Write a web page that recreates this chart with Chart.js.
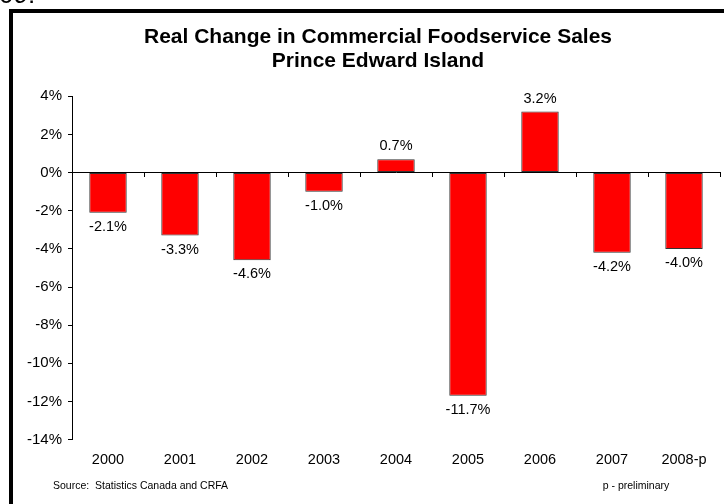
<!DOCTYPE html>
<html>
<head>
<meta charset="utf-8">
<script src="https://cdn.jsdelivr.net/npm/chart.js@4"></script>
<style>
  html, body { margin: 0; padding: 0; background: #fff; overflow: hidden; }
  #wrap { width: 724px; height: 504px; }
</style>
</head>
<body>
<div id="wrap"><canvas id="grafico" width="724" height="504"></canvas></div>
<script>
// dati: variazione reale delle vendite (%)
const anni = ['2000', '2001', '2002', '2003', '2004', '2005', '2006', '2007', '2008-p'];
const variazioni = [-2.1, -3.3, -4.6, -1.0, 0.7, -11.7, 3.2, -4.2, -4.0];
const titolo = ['Real Change in Commercial Foodservice Sales', 'Prince Edward Island'];
const fonte = 'Source:  Statistics Canada and CRFA';
const nota = 'p - preliminary';

const FONT = 'Arial, "Liberation Sans", sans-serif';

// cornice e note a piè di pagina
const cornice = {
  id: 'cornice',
  afterLayout(chart) {
    // titolo centrato sul riquadro, non sul canvas
    chart.titleBlock.left = 36;
  },
  beforeDraw(chart) {
    const ctx = chart.ctx;
    ctx.save();
    ctx.fillStyle = '#000';
    ctx.fillRect(9, 9, chart.width, 4);
    ctx.fillRect(9, 9, 4, chart.height);
    // frammento di testo tagliato in alto
    ctx.font = '26px ' + FONT;
    ctx.textBaseline = 'alphabetic';
    ctx.fillText('09:', -1, 3);
    ctx.restore();
  },
  afterDraw(chart) {
    const ctx = chart.ctx;
    ctx.save();
    ctx.fillStyle = '#000';
    ctx.font = '10.5px ' + FONT;
    ctx.textBaseline = 'middle';
    ctx.textAlign = 'left';
    ctx.fillText(fonte, 53, 486);
    ctx.textAlign = 'center';
    ctx.fillText(nota, 636, 486);
    ctx.restore();
  }
};

// etichette dei valori sopra/sotto le barre
const etichette = {
  id: 'etichette',
  afterDatasetsDraw(chart) {
    const ctx = chart.ctx;
    const meta = chart.getDatasetMeta(0);
    ctx.save();
    ctx.fillStyle = '#000';
    ctx.font = '14.5px ' + FONT;
    ctx.textAlign = 'center';
    ctx.textBaseline = 'middle';
    meta.data.forEach((bar, i) => {
      const v = variazioni[i];
      const y = v >= 0 ? bar.y - 13 : bar.y + 14;
      ctx.fillText(v.toFixed(1) + '%', bar.x, y);
    });
    ctx.restore();
  }
};

new Chart(document.getElementById('grafico'), {
  type: 'bar',
  data: {
    labels: anni,
    datasets: [{
      data: variazioni,
      backgroundColor: '#ff0000',
      borderColor: '#333333',
      borderWidth: 1,
      borderSkipped: false,
      barPercentage: 0.52,
      categoryPercentage: 1,
      xAxisID: 'x'
    }]
  },
  options: {
    responsive: false,
    animation: false,
    layout: { padding: { left: 12, right: 4, top: 14, bottom: 23 } },
    plugins: {
      legend: { display: false },
      tooltip: { enabled: false },
      title: {
        display: true,
        text: titolo,
        color: '#000',
        font: { family: FONT, size: 21, weight: 'bold', lineHeight: 1.15 },
        padding: { top: 11, bottom: 23 }
      }
    },
    scales: {
      x: {
        position: 'bottom',
        offset: true,
        border: { display: false },
        grid: { display: false, drawTicks: false },
        ticks: { color: '#000', padding: 12, font: { family: FONT, size: 14.5 } }
      },
      // linea dello zero con le tacche tra le categorie
      x0: {
        type: 'category',
        labels: anni,
        position: { y: 0 },
        offset: true,
        border: { display: true, color: '#000', width: 1 },
        grid: { offset: true, drawOnChartArea: false, drawTicks: true, tickLength: 4, color: '#000' },
        ticks: { display: false }
      },
      y: {
        min: -14,
        max: 4,
        afterFit(scale) { scale.width = 60; },
        border: { display: true, color: '#000', width: 1 },
        grid: { drawOnChartArea: false, drawTicks: true, tickLength: 4, color: '#000' },
        ticks: {
          stepSize: 2,
          color: '#000',
          padding: 6,
          font: { family: FONT, size: 15 },
          callback: v => v + '%'
        }
      }
    }
  },
  plugins: [cornice, etichette]
});
</script>
</body>
</html>
